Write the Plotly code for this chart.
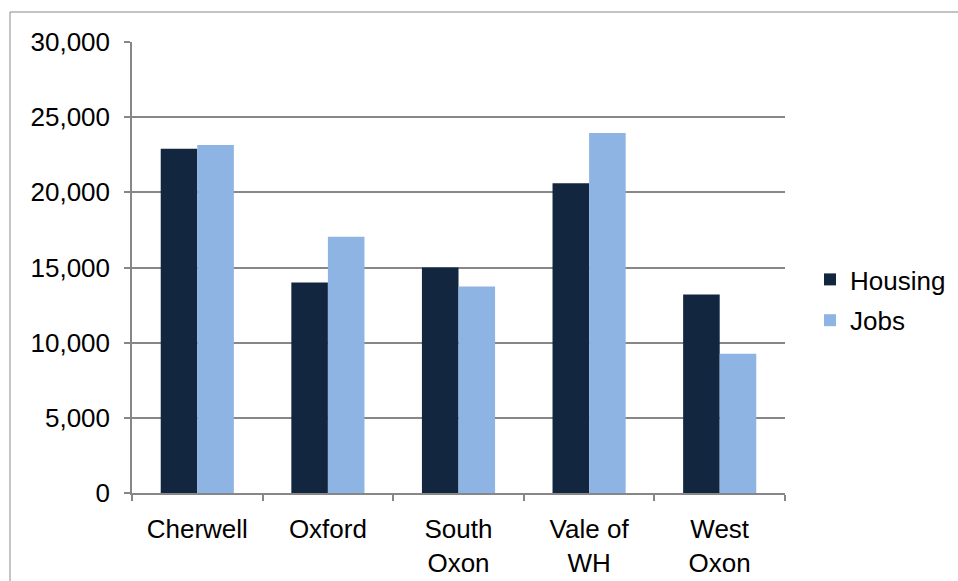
import plotly.graph_objects as go

# District totals
districts = ["Cherwell", "Oxford", "South<br>Oxon", "Vale of<br>WH", "West<br>Oxon"]
housing = [22900, 14000, 15000, 20600, 13200]
jobs = [23150, 17050, 13730, 23950, 9270]

HOUSING_COLOR = "#12263F"
JOBS_COLOR = "#8EB4E3"
GRID = "#878787"
FONT = "Liberation Sans, Arial, sans-serif"

fig = go.Figure()
fig.add_trace(go.Bar(name="Housing", x=districts, y=housing, legendgroup="h",
                     marker=dict(color=HOUSING_COLOR, line=dict(width=0))))
fig.add_trace(go.Bar(name="Jobs", x=districts, y=jobs, legendgroup="j",
                     marker=dict(color=JOBS_COLOR, line=dict(width=0))))

L, R, T, B = 132, 173, 42, 88
W, H = 958, 581
pw, ph = W - L - R, H - T - B

fig.update_layout(
    width=W, height=H,
    margin=dict(l=L, r=R, t=T, b=B, autoexpand=False),
    paper_bgcolor="white", plot_bgcolor="white",
    barmode="group", bargap=0.44, bargroupgap=0,
    font=dict(family=FONT, size=26, color="#000000"),
    showlegend=True,
    legend=dict(x=(810 - L) / pw, xanchor="left", y=(493 - 300) / ph, yanchor="middle",
                font=dict(size=26), traceorder="grouped", tracegroupgap=4,
                itemwidth=30, bgcolor="rgba(0,0,0,0)"),
    xaxis=dict(showgrid=False, showline=True, linecolor=GRID, linewidth=1.5,
               ticks="outside", tickson="boundaries", ticklen=6, tickcolor=GRID,
               tickwidth=1.5, ticklabelstandoff=12, tickfont=dict(size=26),
               fixedrange=True),
    yaxis=dict(range=[0, 30000], tickvals=[0, 5000, 10000, 15000, 20000, 25000, 30000],
               tickformat=",d", showgrid=True, gridcolor=GRID, gridwidth=1.5,
               showline=True, linecolor=GRID, linewidth=1.5, zeroline=False,
               ticks="outside", ticklen=6, tickcolor=GRID, tickwidth=1.5,
               ticklabelstandoff=9, tickfont=dict(size=26)),
    shapes=[dict(type="rect", xref="paper", yref="paper",
                 x0=(10 - L) / pw, x1=(W + 20 - L) / pw,
                 y0=(493 - (H + 20)) / ph, y1=(493 - 12) / ph,
                 line=dict(color="#898989", width=1), fillcolor="rgba(0,0,0,0)",
                 layer="below")],
)

fig.write_html("out.html")
